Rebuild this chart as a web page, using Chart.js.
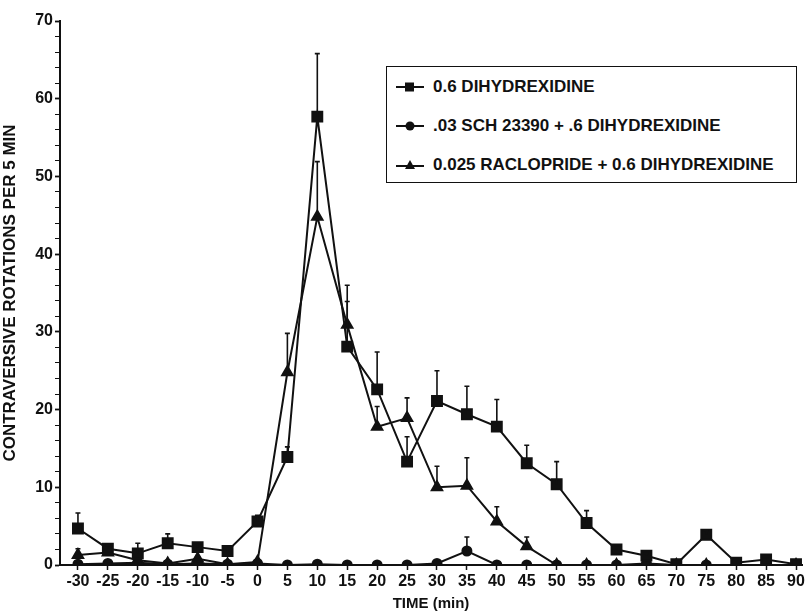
<!DOCTYPE html>
<html lang="en">
<head>
    <meta charset="UTF-8">
    <title>Contraversive rotations</title>
    <script src="https://cdn.jsdelivr.net/npm/chart.js"></script>
    <style>
        * { margin: 0; padding: 0; box-sizing: border-box; }
        body { background: #fff; width: 811px; height: 613px; overflow: hidden; font-family: 'Liberation Sans', Arial, sans-serif; }
        .wrap { position: relative; width: 811px; height: 613px; }
        .legend {
            position: absolute; left: 386px; top: 66px; width: 411px; height: 117px;
            border: 1.5px solid #111; background: #fff;
            padding-top: 0; padding-left: 9px;
        }
        .legend-item { display: flex; align-items: center; height: 39px; font-weight: 700; font-size: 17px; color: #111; }
        .legend-item svg { margin-right: 9px; }
    </style>
</head>
<body>
<div class="wrap">
    <canvas id="chart" width="811" height="613"></canvas>
    <div class="legend">
        <div class="legend-item">
            <svg width="28" height="12"><line x1="0" y1="6" x2="28" y2="6" stroke="#111" stroke-width="2"/><rect x="9" y="1.5" width="9" height="9" fill="#111"/></svg>
            <span>0.6 DIHYDREXIDINE</span>
        </div>
        <div class="legend-item">
            <svg width="28" height="12"><line x1="0" y1="6" x2="28" y2="6" stroke="#111" stroke-width="2"/><circle cx="14" cy="6" r="4.5" fill="#111"/></svg>
            <span>.03 SCH 23390 + .6 DIHYDREXIDINE</span>
        </div>
        <div class="legend-item">
            <svg width="28" height="12"><line x1="0" y1="7" x2="28" y2="7" stroke="#111" stroke-width="2"/><polygon points="14,1 19,10 9,10" fill="#111"/></svg>
            <span>0.025 RACLOPRIDE + 0.6 DIHYDREXIDINE</span>
        </div>
    </div>
</div>
<script>
    // time points (min)
    const times = [-30, -25, -20, -15, -10, -5, 0, 5, 10, 15, 20, 25, 30, 35, 40, 45, 50, 55, 60, 65, 70, 75, 80, 85, 90];

    // 0.6 dihydrexidine
    const dhx    = [4.7, 2.1, 1.5, 2.8, 2.3, 1.8, 5.6, 13.9, 57.7, 28.1, 22.6, 13.3, 21.1, 19.4, 17.8, 13.1, 10.4, 5.4, 2.0, 1.2, 0.1, 3.9, 0.3, 0.7, 0.1];
    const dhxErr = [2.0, 0.4, 1.3, 1.2, 0.4, 0.3, 0.8, 1.3, 8.1, 7.9, 4.8, 3.2, 3.9, 3.6, 3.5, 2.3, 2.9, 1.6, 0.3, 0.3, 0, 0.5, 0, 0.2, 0];

    // .03 SCH 23390 + .6 dihydrexidine
    const sch    = [0.1, 0.2, 0.3, 0.1, 0.2, 0.1, 0.2, 0.0, 0.1, 0, 0, 0, 0.2, 1.8, 0, 0, 0, 0, 0, 0.2, 0, 0, 0, 0, 0];
    const schErr = [0, 0, 0, 0, 0, 0, 0, 0, 0, 0, 0, 0, 0, 1.8, 0, 0, 0, 0, 0, 0, 0, 0, 0, 0, 0];

    // 0.025 raclopride + 0.6 dihydrexidine
    const rac    = [1.3, 1.6, 0.6, 0.2, 0.8, 0.1, 0.4, 24.8, 44.8, 30.9, 17.8, 18.9, 10.0, 10.2, 5.6, 2.4, 0, 0, 0, 0, 0, 0, 0, 0, 0];
    const racErr = [0.8, 0, 0, 0, 0, 0, 0, 5.0, 7.1, 3.0, 2.6, 2.6, 2.7, 3.6, 1.9, 1.2, 0, 0, 0, 0, 0, 0, 0, 0, 0];

    const yMajor = [0, 10, 20, 30, 40, 50, 60, 70];

    const pts = (arr, err) => times.map((t, i) => ({ x: t, y: arr[i], e: err[i] }));

    const FONT = "'Liberation Sans', Arial, sans-serif";
    const INK = '#111';

    // upward-only error bars with small caps
    const errorBars = {
        id: 'errorBars',
        afterDatasetsDraw(chart) {
            const ctx = chart.ctx;
            const xs = chart.scales.x, ys = chart.scales.y;
            ctx.save();
            ctx.strokeStyle = INK;
            ctx.lineWidth = 1.6;
            chart.data.datasets.forEach(ds => {
                ds.data.forEach(p => {
                    if (!p.e) return;
                    const px = xs.getPixelForValue(p.x);
                    const y0 = ys.getPixelForValue(p.y);
                    const y1 = ys.getPixelForValue(p.y + p.e);
                    ctx.beginPath();
                    ctx.moveTo(px, y0);
                    ctx.lineTo(px, y1);
                    ctx.moveTo(px - 2.5, y1);
                    ctx.lineTo(px + 2.5, y1);
                    ctx.stroke();
                });
            });
            ctx.restore();
        }
    };

    const common = {
        borderColor: INK,
        backgroundColor: INK,
        pointBackgroundColor: INK,
        pointBorderColor: INK,
        borderWidth: 2,
        showLine: true,
        tension: 0
    };

    new Chart(document.getElementById('chart').getContext('2d'), {
        type: 'scatter',
        data: {
            datasets: [
                { ...common, label: '0.6 DIHYDREXIDINE', data: pts(dhx, dhxErr), pointStyle: 'rect', pointRadius: 7 },
                { ...common, label: '.03 SCH 23390 + .6 DIHYDREXIDINE', data: pts(sch, schErr), pointStyle: 'circle', pointRadius: 4.5 },
                { ...common, label: '0.025 RACLOPRIDE + 0.6 DIHYDREXIDINE', data: pts(rac, racErr), pointStyle: 'triangle', pointRadius: 6 }
            ]
        },
        options: {
            responsive: false,
            animation: false,
            layout: { padding: { top: 21, right: 5, left: 0, bottom: 0 } },
            plugins: { legend: { display: false }, tooltip: { enabled: false } },
            scales: {
                x: {
                    type: 'linear',
                    min: -33,
                    max: 91,
                    afterBuildTicks(scale) { scale.ticks = times.map(v => ({ value: v })); },
                    afterFit(scale) { scale.height = 48; },
                    border: { color: INK, width: 2 },
                    grid: { drawOnChartArea: false, color: INK, tickLength: 5, tickWidth: 1.5 },
                    ticks: {
                        color: INK, autoSkip: false, maxRotation: 0, padding: 2,
                        font: { family: FONT, size: 16, weight: 'bold' },
                        callback: v => v
                    },
                    title: {
                        display: true, text: 'TIME (min)', color: INK, padding: { top: 0, bottom: 0 },
                        font: { family: FONT, size: 15, weight: 'bold' }
                    }
                },
                y: {
                    min: 0,
                    max: 70,
                    afterBuildTicks(scale) {
                        const t = [];
                        for (let v = 0; v <= 70; v += 2) t.push({ value: v });
                        scale.ticks = t;
                    },
                    afterFit(scale) { scale.width = 60; },
                    border: { color: INK, width: 2 },
                    grid: {
                        drawOnChartArea: false, color: INK, tickLength: 5,
                        tickWidth: c => (c.tick && yMajor.includes(c.tick.value)) ? 1.8 : 1
                    },
                    ticks: {
                        color: INK, autoSkip: false, padding: 2,
                        font: { family: FONT, size: 16, weight: 'bold' },
                        callback: v => yMajor.includes(v) ? v : ''
                    },
                    title: {
                        display: true, text: 'CONTRAVERSIVE ROTATIONS PER 5 MIN', color: INK, padding: { top: 0, bottom: 2 },
                        font: { family: FONT, size: 17, weight: 'bold' }
                    }
                }
            }
        },
        plugins: [errorBars]
    });
</script>
</body>
</html>
